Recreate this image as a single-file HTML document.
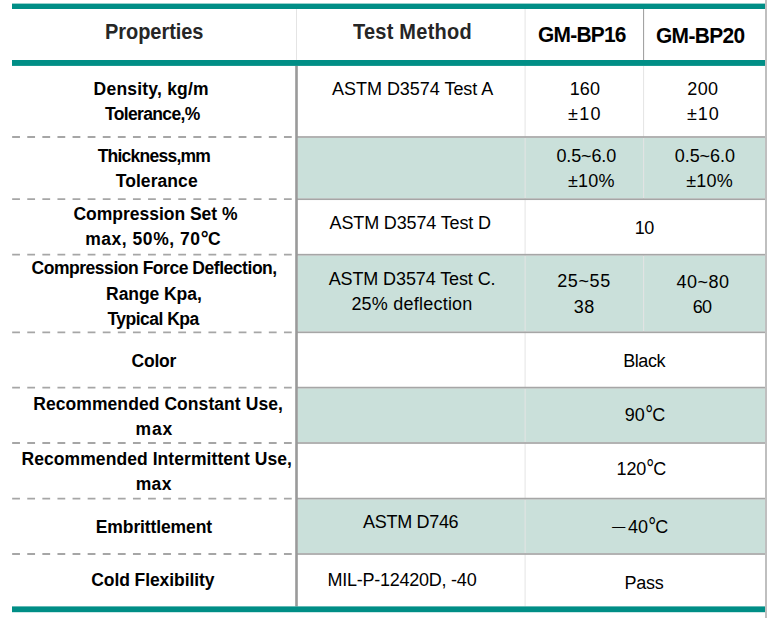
<!DOCTYPE html>
<html><head><meta charset="utf-8"><title>GM-BP Properties</title>
<style>
html,body{margin:0;padding:0;background:#fff;}
body{width:767px;height:618px;position:relative;overflow:hidden;font-family:"Liberation Sans",Arial,sans-serif;}
.a{position:absolute;}
.t{position:absolute;white-space:nowrap;line-height:1;}
.b{font-weight:bold;}
.g{position:absolute;background:#cae0da;}
.h{position:absolute;background:#a6a6a6;}
.d{position:absolute;height:2px;background:repeating-linear-gradient(90deg,#a6a6a6 0,#a6a6a6 7.8px,transparent 7.8px,transparent 15.1px);}
.tl{position:absolute;background:#008e86;}
.dgb{display:inline-block;transform:translate(0.2px,-1.1px) scale(1.12,1.18);}
.dg{display:inline-block;transform:translate(0.6px,-0.6px) scale(1.1,1.4);}
.mn{display:inline-block;transform-origin:0 50%;transform:translateY(0px) scale(1.52,0.75);margin-right:6.2px;}
</style></head><body>

<svg class="a" style="left:0;top:0" width="767" height="618" viewBox="0 0 767 618"><rect x="297.8" y="137.8" width="467.2" height="60.6" fill="#cae0da"/><rect x="297.8" y="255.5" width="467.2" height="76.0" fill="#cae0da"/><rect x="297.8" y="388.4" width="467.2" height="53.8" fill="#cae0da"/><rect x="297.8" y="499.4" width="467.2" height="53.8" fill="#cae0da"/><rect x="296" y="9" width="1" height="51" fill="#e4e4e4"/><rect x="524.6" y="9" width="1" height="597.4" fill="#e4e4e4"/><rect x="643.1" y="9" width="1" height="51" fill="#9a9a9a"/><rect x="643.1" y="65.8" width="1" height="71.2" fill="#e4e4e4"/><rect x="643.1" y="137" width="1" height="62.2" fill="#e4e4e4"/><rect x="643.1" y="254.7" width="1" height="77.6" fill="#e4e4e4"/><rect x="297" y="136.15" width="468.0" height="1.7" fill="#a6a6a6"/><line x1="12.15" x2="292" y1="137.00" y2="137.00" stroke="#a6a6a6" stroke-width="1.8" stroke-dasharray="7.8 7.3"/><rect x="297" y="198.35" width="468.0" height="1.7" fill="#a6a6a6"/><line x1="12.15" x2="292" y1="199.20" y2="199.20" stroke="#a6a6a6" stroke-width="1.8" stroke-dasharray="7.8 7.3"/><rect x="297" y="253.85" width="468.0" height="1.7" fill="#a6a6a6"/><line x1="12.15" x2="292" y1="254.70" y2="254.70" stroke="#a6a6a6" stroke-width="1.8" stroke-dasharray="7.8 7.3"/><rect x="297" y="331.45" width="468.0" height="1.7" fill="#a6a6a6"/><line x1="12.15" x2="292" y1="332.30" y2="332.30" stroke="#a6a6a6" stroke-width="1.8" stroke-dasharray="7.8 7.3"/><rect x="297" y="386.75" width="468.0" height="1.7" fill="#a6a6a6"/><line x1="12.15" x2="292" y1="387.60" y2="387.60" stroke="#a6a6a6" stroke-width="1.8" stroke-dasharray="7.8 7.3"/><rect x="297" y="442.15" width="468.0" height="1.7" fill="#a6a6a6"/><line x1="12.15" x2="292" y1="443.00" y2="443.00" stroke="#a6a6a6" stroke-width="1.8" stroke-dasharray="7.8 7.3"/><rect x="297" y="497.75" width="468.0" height="1.7" fill="#a6a6a6"/><line x1="12.15" x2="292" y1="498.60" y2="498.60" stroke="#a6a6a6" stroke-width="1.8" stroke-dasharray="7.8 7.3"/><rect x="297" y="553.15" width="468.0" height="1.7" fill="#a6a6a6"/><line x1="12.15" x2="292" y1="554.00" y2="554.00" stroke="#a6a6a6" stroke-width="1.8" stroke-dasharray="7.8 7.3"/><rect x="295.2" y="65.8" width="2.6" height="540.6" fill="#9a9a9a"/><rect x="765" y="0" width="2" height="618" fill="#bfbfbf"/><rect x="12" y="3.6" width="753" height="5.4" fill="#008e86"/><rect x="12" y="60" width="753" height="5.9" fill="#008e86"/><rect x="12" y="606.4" width="753" height="5.8" fill="#008e86"/></svg>
<div class="t b" style="left:105.26px;top:21.92px;font-size:21.5px;letter-spacing:-0.057px;color:#262626;transform:scaleX(0.93);transform-origin:0 0;">Properties</div>
<div class="t b" style="left:353.10px;top:21.88px;font-size:21.5px;letter-spacing:0.256px;color:#262626;transform:scaleX(0.93);transform-origin:0 0;">Test Method</div>
<div class="t b" style="left:538.10px;top:24.18px;font-size:22px;letter-spacing:-0.782px;color:#000;transform:scaleX(0.95);transform-origin:0 0;">GM-BP16</div>
<div class="t b" style="left:656.20px;top:25.04px;font-size:22px;letter-spacing:-0.665px;color:#000;transform:scaleX(0.95);transform-origin:0 0;">GM-BP20</div>
<div class="t b" style="left:93.58px;top:81.47px;font-size:17.5px;letter-spacing:0.215px;color:#000;">Density, kg/m</div>
<div class="t b" style="left:105.00px;top:106.49px;font-size:17.5px;letter-spacing:-0.658px;color:#000;">Tolerance,%</div>
<div class="t b" style="left:97.68px;top:147.89px;font-size:17.5px;letter-spacing:-0.765px;color:#000;">Thickness,mm</div>
<div class="t b" style="left:115.68px;top:173.14px;font-size:17.5px;letter-spacing:0.071px;color:#000;">Tolerance</div>
<div class="t b" style="left:73.50px;top:206.06px;font-size:17.5px;letter-spacing:-0.020px;color:#000;">Compression Set %</div>
<div class="t b" style="left:85.26px;top:231.02px;font-size:17.5px;letter-spacing:0.523px;color:#000;">max, 50%, 70<span class="dgb">°</span>C</div>
<div class="t b" style="left:31.50px;top:260.04px;font-size:17.5px;letter-spacing:-0.463px;color:#000;">Compression Force Deflection,</div>
<div class="t b" style="left:106.08px;top:285.73px;font-size:17.5px;letter-spacing:-0.066px;color:#000;">Range Kpa,</div>
<div class="t b" style="left:107.50px;top:310.99px;font-size:17.5px;letter-spacing:-0.525px;color:#000;">Typical Kpa</div>
<div class="t b" style="left:131.50px;top:352.80px;font-size:17.5px;letter-spacing:-0.214px;color:#000;">Color</div>
<div class="t b" style="left:33.26px;top:396.27px;font-size:17.5px;letter-spacing:0.068px;color:#000;">Recommended Constant Use,</div>
<div class="t b" style="left:135.58px;top:420.54px;font-size:17.5px;letter-spacing:0.770px;color:#000;">max</div>
<div class="t b" style="left:21.52px;top:451.29px;font-size:17.5px;letter-spacing:0.071px;color:#000;">Recommended Intermittent Use,</div>
<div class="t b" style="left:135.70px;top:475.71px;font-size:17.5px;letter-spacing:0.370px;color:#000;">max</div>
<div class="t b" style="left:95.82px;top:519.23px;font-size:17.5px;letter-spacing:-0.116px;color:#000;">Embrittlement</div>
<div class="t b" style="left:91.26px;top:571.51px;font-size:17.5px;letter-spacing:-0.083px;color:#000;">Cold Flexibility</div>
<div class="t" style="left:332.06px;top:79.52px;font-size:18px;letter-spacing:-0.031px;color:#000;">ASTM D3574 Test A</div>
<div class="t" style="left:329.56px;top:213.82px;font-size:18px;letter-spacing:-0.138px;color:#000;">ASTM D3574 Test D</div>
<div class="t" style="left:328.68px;top:269.52px;font-size:18px;letter-spacing:-0.111px;color:#000;">ASTM D3574 Test C.</div>
<div class="t" style="left:351.38px;top:294.71px;font-size:18px;letter-spacing:0.223px;color:#000;">25% deflection</div>
<div class="t" style="left:363.12px;top:513.02px;font-size:18px;letter-spacing:-0.314px;color:#000;">ASTM D746</div>
<div class="t" style="left:327.46px;top:571.45px;font-size:18px;letter-spacing:-0.242px;color:#000;">MIL-P-12420D, -40</div>
<div class="t" style="left:569.70px;top:80.13px;font-size:18px;letter-spacing:0.120px;color:#000;">160</div>
<div class="t" style="left:567.94px;top:105.26px;font-size:18px;letter-spacing:1.370px;color:#000;">±10</div>
<div class="t" style="left:687.26px;top:80.08px;font-size:18px;letter-spacing:0.400px;color:#000;">200</div>
<div class="t" style="left:687.00px;top:105.07px;font-size:18px;letter-spacing:0.900px;color:#000;">±10</div>
<div class="t" style="left:556.44px;top:146.88px;font-size:18px;letter-spacing:-0.138px;color:#000;">0.5~6.0</div>
<div class="t" style="left:567.94px;top:171.52px;font-size:18px;letter-spacing:0.220px;color:#000;">±10%</div>
<div class="t" style="left:674.76px;top:146.88px;font-size:18px;letter-spacing:-0.055px;color:#000;">0.5~6.0</div>
<div class="t" style="left:686.26px;top:171.61px;font-size:18px;letter-spacing:0.173px;color:#000;">±10%</div>
<div class="t" style="left:634.70px;top:219.03px;font-size:18px;letter-spacing:-0.500px;color:#000;">10</div>
<div class="t" style="left:557.20px;top:272.35px;font-size:18px;letter-spacing:0.600px;color:#000;">25~55</div>
<div class="t" style="left:573.70px;top:297.79px;font-size:18px;letter-spacing:0.440px;color:#000;">38</div>
<div class="t" style="left:676.38px;top:272.53px;font-size:18px;letter-spacing:0.540px;color:#000;">40~80</div>
<div class="t" style="left:692.64px;top:297.76px;font-size:18px;letter-spacing:-0.560px;color:#000;">60</div>
<div class="t" style="left:623.14px;top:351.90px;font-size:18px;letter-spacing:-0.405px;color:#000;">Black</div>
<div class="t" style="left:624.64px;top:406.04px;font-size:18px;letter-spacing:0.103px;color:#000;">90<span class="dg">°</span>C</div>
<div class="t" style="left:616.58px;top:460.03px;font-size:18px;letter-spacing:-0.125px;color:#000;">120<span class="dg">°</span>C</div>
<div class="t" style="left:611.20px;top:518.02px;font-size:18px;letter-spacing:0.000px;color:#000;"><span class="mn">−</span>40<span class="dg">°</span>C</div>
<div class="t" style="left:624.58px;top:573.90px;font-size:18px;letter-spacing:-0.297px;color:#000;">Pass</div>
</body></html>
